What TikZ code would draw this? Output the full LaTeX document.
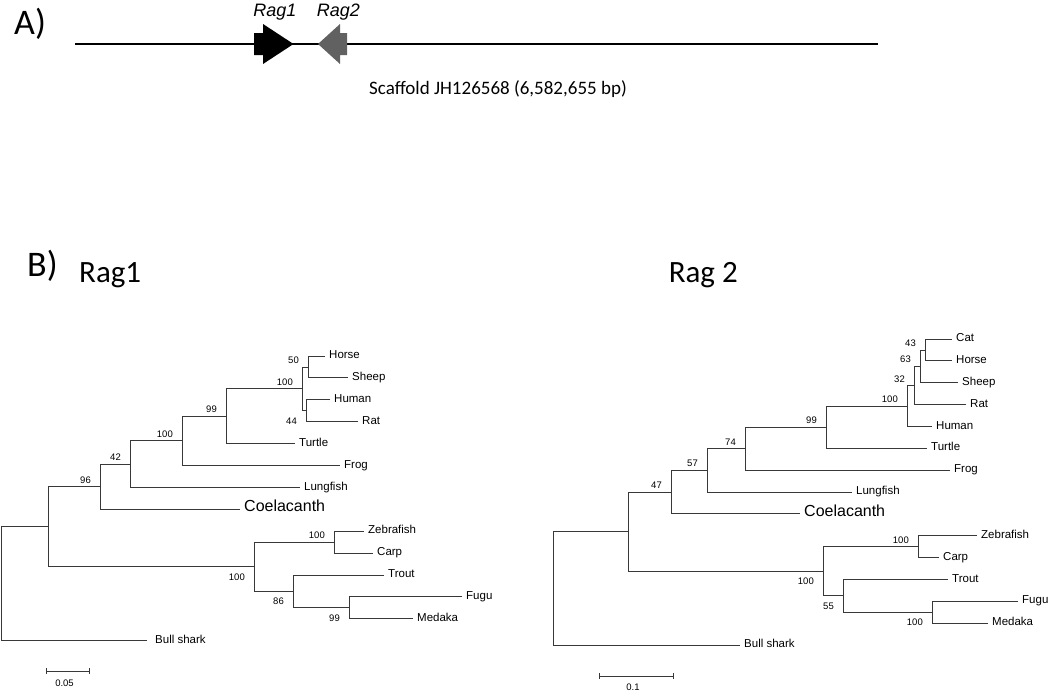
\documentclass[tikz,border=0pt]{standalone}
\usepackage{fontspec}
\setmainfont{Liberation Sans}
\newfontfamily\calfont{Carlito}
\tikzset{
  br/.style={line width=1pt, draw=black!78},
  lab/.style={anchor=mid west, inner sep=0pt, xshift=4pt, font=\fontsize{11.5}{13}\selectfont},
  biglab/.style={anchor=mid west, inner sep=0pt, xshift=4pt, font=\fontsize{16}{18}\selectfont},
  bsa/.style={anchor=base east, inner sep=0pt, xshift=-9pt, yshift=3.5pt, font=\fontsize{9.5}{11}\selectfont},
  bsb/.style={anchor=base east, inner sep=0pt, xshift=-9pt, yshift=-13.5pt, font=\fontsize{9.5}{11}\selectfont},
  sclab/.style={anchor=base, inner sep=0pt, font=\fontsize{9.5}{11}\selectfont},
  head/.style={inner sep=0pt, font=\calfont\fontsize{31}{34}\selectfont},
  panel/.style={inner sep=0pt, anchor=base west, font=\calfont\fontsize{36}{40}\selectfont},
}
\begin{document}
\begin{tikzpicture}[x=1pt,y=-1pt]
\useasboundingbox (0,0) rectangle (1050,691);

% ---------------- Panel A ----------------
\node[panel] (pA) at (14,34) {A)};
\coordinate (s1) at (75,44);
\coordinate (s2) at (878,44);
\draw[line width=2.2pt] (s1) -- (s2);
\fill[black] (254,33) -- (263,33) -- (263,24) -- (293.5,44) -- (263,64) -- (263,55) -- (254,55) -- cycle;
\fill[black!62] (318,44) -- (340,24) -- (340,33) -- (347,33) -- (347,55) -- (340,55) -- (340,64) -- cycle;
\node[inner sep=0pt, anchor=base, font=\itshape\fontsize{18}{20}\selectfont] (g1) at (275,16) {Rag1};
\node[inner sep=0pt, anchor=base, font=\itshape\fontsize{18}{20}\selectfont] (g2) at (338.5,16) {Rag2};
\node[inner sep=0pt, anchor=base, font=\calfont\fontsize{19}{21}\selectfont] (scf) at (498,94) {Scaffold JH126568 (6,582,655 bp)};

% ---------------- Panel B headers ----------------
\node[panel] (pB) at (27,276) {B)};
\node[head, anchor=base west] (h1) at (79,282) {Rag1};
\node[head, anchor=base east] (h2) at (738,282) {Rag 2};

% ---------------- Left tree ----------------
\coordinate (LHorse) at (325,356.0);
\coordinate (LSheep) at (348,377.9);
\coordinate (LHuman) at (330,399.8);
\coordinate (LRat) at (358,421.7);
\coordinate (LTurtle) at (295,443.6);
\coordinate (LFrog) at (340,465.5);
\coordinate (LLung) at (300,487.4);
\coordinate (LCoel) at (240,509.3);
\coordinate (LZebra) at (364,531.2);
\coordinate (LCarp) at (373,553.1);
\coordinate (LTrout) at (384,575.0);
\coordinate (LFugu) at (462,596.9);
\coordinate (LMedaka) at (413,618.8);
\coordinate (LBull) at (147,640.7);

\coordinate (Lhs) at (308,367.0);
\coordinate (Lhr) at (306,410.8);
\coordinate (Lmam) at (302,388.9);
\coordinate (L99) at (226,416.2);
\coordinate (L100) at (182,440.9);
\coordinate (L42) at (130,464.1);
\coordinate (L96) at (100,486.7);
\coordinate (Lzc) at (334,542.2);
\coordinate (Lfm) at (349,607.9);
\coordinate (L86) at (293,591.4);
\coordinate (Lfish) at (254,566.8);
\coordinate (Ltop) at (48,526.8);
\coordinate (Lroot) at (1,583.7);

\draw[br] (Lhs) |- (LHorse);
\draw[br] (Lhs) |- (LSheep);
\draw[br] (Lhr) |- (LHuman);
\draw[br] (Lhr) |- (LRat);
\draw[br] (Lmam) |- (Lhs);
\draw[br] (Lmam) |- (Lhr);
\draw[br] (L99) |- (Lmam);
\draw[br] (L99) |- (LTurtle);
\draw[br] (L100) |- (L99);
\draw[br] (L100) |- (LFrog);
\draw[br] (L42) |- (L100);
\draw[br] (L42) |- (LLung);
\draw[br] (L96) |- (L42);
\draw[br] (L96) |- (LCoel);
\draw[br] (Lzc) |- (LZebra);
\draw[br] (Lzc) |- (LCarp);
\draw[br] (Lfm) |- (LFugu);
\draw[br] (Lfm) |- (LMedaka);
\draw[br] (L86) |- (LTrout);
\draw[br] (L86) |- (Lfm);
\draw[br] (Lfish) |- (Lzc);
\draw[br] (Lfish) |- (L86);
\draw[br] (Ltop) |- (L96);
\draw[br] (Ltop) |- (Lfish);
\draw[br] (Lroot) |- (Ltop);
\draw[br] (Lroot) |- (LBull);

\node[lab] (tLHorse) at (LHorse) {Horse};
\node[lab] (tLSheep) at (LSheep) {Sheep};
\node[lab] (tLHuman) at (LHuman) {Human};
\node[lab] (tLRat) at (LRat) {Rat};
\node[lab] (tLTurtle) at (LTurtle) {Turtle};
\node[lab] (tLFrog) at (LFrog) {Frog};
\node[lab] (tLLung) at (LLung) {Lungfish};
\node[biglab] (tLCoel) at (LCoel) {Coelacanth};
\node[lab] (tLZebra) at (LZebra) {Zebrafish};
\node[lab] (tLCarp) at (LCarp) {Carp};
\node[lab] (tLTrout) at (LTrout) {Trout};
\node[lab] (tLFugu) at (LFugu) {Fugu};
\node[lab] (tLMedaka) at (LMedaka) {Medaka};
\node[lab, xshift=4pt] (tLBull) at (LBull) {Bull shark};

\node[bsa] (bLhs) at (Lhs) {50};
\node[bsb] (bLhr) at (Lhr) {44};
\node[bsa] (bLmam) at (Lmam) {100};
\node[bsa] (bL99) at (L99) {99};
\node[bsa] (bL100) at (L100) {100};
\node[bsa] (bL42) at (L42) {42};
\node[bsa] (bL96) at (L96) {96};
\node[bsa] (bLzc) at (Lzc) {100};
\node[bsb] (bLfish) at (Lfish) {100};
\node[bsb] (bL86) at (L86) {86};
\node[bsb] (bLfm) at (Lfm) {99};

\coordinate (Lsb1) at (46,671);
\coordinate (Lsb2) at (89,671);
\draw[br] (Lsb1) -- (Lsb2);
\draw[br] ([yshift=3pt]Lsb1) -- ([yshift=-3pt]Lsb1);
\draw[br] ([yshift=3pt]Lsb2) -- ([yshift=-3pt]Lsb2);
\node[sclab] (tLsb) at (64.5,686) {0.05};

% ---------------- Right tree ----------------
\coordinate (RCat) at (952,339.0);
\coordinate (RHorse) at (952,360.9);
\coordinate (RSheep) at (958,382.7);
\coordinate (RRat) at (966,404.6);
\coordinate (RHuman) at (932,426.4);
\coordinate (RTurtle) at (927,448.3);
\coordinate (RFrog) at (950,470.2);
\coordinate (RLung) at (852,492.0);
\coordinate (RCoel) at (800,513.9);
\coordinate (RZebra) at (977,535.7);
\coordinate (RCarp) at (939,557.6);
\coordinate (RTrout) at (948,579.5);
\coordinate (RFugu) at (1018,601.3);
\coordinate (RMedaka) at (988,623.2);
\coordinate (RBull) at (740,645.0);

\coordinate (Rch) at (925,350.0);
\coordinate (R63) at (920,366.4);
\coordinate (R32) at (914,385.5);
\coordinate (Rmam) at (907,406.0);
\coordinate (R99) at (826,427.2);
\coordinate (R74) at (745,448.7);
\coordinate (R57) at (707,470.4);
\coordinate (R47) at (671,492.2);
\coordinate (Rzc) at (918,546.7);
\coordinate (Rfm) at (932,612.3);
\coordinate (R55) at (843,595.9);
\coordinate (Rfish) at (823,571.3);
\coordinate (Rtop) at (628,531.7);
\coordinate (Rroot) at (553,588.4);

\draw[br] (Rch) |- (RCat);
\draw[br] (Rch) |- (RHorse);
\draw[br] (R63) |- (Rch);
\draw[br] (R63) |- (RSheep);
\draw[br] (R32) |- (R63);
\draw[br] (R32) |- (RRat);
\draw[br] (Rmam) |- (R32);
\draw[br] (Rmam) |- (RHuman);
\draw[br] (R99) |- (Rmam);
\draw[br] (R99) |- (RTurtle);
\draw[br] (R74) |- (R99);
\draw[br] (R74) |- (RFrog);
\draw[br] (R57) |- (R74);
\draw[br] (R57) |- (RLung);
\draw[br] (R47) |- (R57);
\draw[br] (R47) |- (RCoel);
\draw[br] (Rzc) |- (RZebra);
\draw[br] (Rzc) |- (RCarp);
\draw[br] (Rfm) |- (RFugu);
\draw[br] (Rfm) |- (RMedaka);
\draw[br] (R55) |- (RTrout);
\draw[br] (R55) |- (Rfm);
\draw[br] (Rfish) |- (Rzc);
\draw[br] (Rfish) |- (R55);
\draw[br] (Rtop) |- (R47);
\draw[br] (Rtop) |- (Rfish);
\draw[br] (Rroot) |- (Rtop);
\draw[br] (Rroot) |- (RBull);

\node[lab] (tRCat) at (RCat) {Cat};
\node[lab] (tRHorse) at (RHorse) {Horse};
\node[lab] (tRSheep) at (RSheep) {Sheep};
\node[lab] (tRRat) at (RRat) {Rat};
\node[lab] (tRHuman) at (RHuman) {Human};
\node[lab] (tRTurtle) at (RTurtle) {Turtle};
\node[lab] (tRFrog) at (RFrog) {Frog};
\node[lab] (tRLung) at (RLung) {Lungfish};
\node[biglab] (tRCoel) at (RCoel) {Coelacanth};
\node[lab] (tRZebra) at (RZebra) {Zebrafish};
\node[lab] (tRCarp) at (RCarp) {Carp};
\node[lab] (tRTrout) at (RTrout) {Trout};
\node[lab] (tRFugu) at (RFugu) {Fugu};
\node[lab] (tRMedaka) at (RMedaka) {Medaka};
\node[lab] (tRBull) at (RBull) {Bull shark};

\node[bsa] (bRch) at (Rch) {43};
\node[bsa] (bR63) at (R63) {63};
\node[bsa] (bR32) at (R32) {32};
\node[bsa] (bRmam) at (Rmam) {100};
\node[bsa] (bR99) at (R99) {99};
\node[bsa] (bR74) at (R74) {74};
\node[bsa] (bR57) at (R57) {57};
\node[bsa] (bR47) at (R47) {47};
\node[bsa] (bRzc) at (Rzc) {100};
\node[bsb] (bRfish) at (Rfish) {100};
\node[bsb] (bR55) at (R55) {55};
\node[bsb] (bRfm) at (Rfm) {100};

\coordinate (Rsb1) at (599,676);
\coordinate (Rsb2) at (673,676);
\draw[br] (Rsb1) -- (Rsb2);
\draw[br] ([yshift=3pt]Rsb1) -- ([yshift=-3pt]Rsb1);
\draw[br] ([yshift=3pt]Rsb2) -- ([yshift=-3pt]Rsb2);
\node[sclab] (tRsb) at (633,690) {0.1};
\end{tikzpicture}
\end{document}
